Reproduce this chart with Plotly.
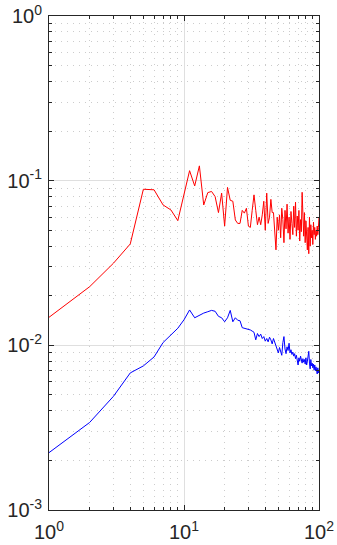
import plotly.graph_objects as go

# Frequency bins (1..100) and the two spectra
freq = list(range(1, 101))

red_psd = [
    0.0148, 0.0227, 0.0315, 0.0413, 0.0887, 0.0880, 0.0712, 0.0664, 0.0572, 0.0838,
    0.1150, 0.0929, 0.1230, 0.0712, 0.0846, 0.0860, 0.0800, 0.0640, 0.0840, 0.0530,
    0.0910, 0.0760, 0.0750, 0.0577, 0.0550, 0.0550, 0.0660, 0.0635, 0.0680, 0.0530,
    0.0520, 0.0660, 0.0820, 0.0660, 0.0540, 0.0600, 0.0540, 0.0620, 0.0750, 0.0500,
    0.0840, 0.0550, 0.0600, 0.0770, 0.0640, 0.0640, 0.0470, 0.0380, 0.0600, 0.0500,
    0.0620, 0.0450, 0.0680, 0.0580, 0.0420, 0.0660, 0.0510, 0.0720, 0.0480, 0.0600,
    0.0440, 0.0650, 0.0550, 0.0470, 0.0700, 0.0520, 0.0740, 0.0460, 0.0610, 0.0500,
    0.0660, 0.0430, 0.0580, 0.0490, 0.0850, 0.0550, 0.0460, 0.0640, 0.0420, 0.0570,
    0.0480, 0.0380, 0.0520, 0.0360, 0.0600, 0.0400, 0.0540, 0.0450, 0.0500, 0.0410,
    0.0560, 0.0470, 0.0520, 0.0440, 0.0500, 0.0460, 0.0530, 0.0470, 0.0520, 0.0600,
]

blue_psd = [
    0.00223, 0.0034, 0.0049, 0.0068, 0.0075, 0.0085, 0.0104, 0.0116, 0.0127, 0.0143,
    0.0164, 0.0147, 0.0153, 0.0157, 0.0160, 0.0163, 0.0161, 0.0150, 0.0147, 0.0139,
    0.0147, 0.0163, 0.0139, 0.0147, 0.0142, 0.0141, 0.0128, 0.0127, 0.0126, 0.0125,
    0.0124, 0.0122, 0.0120, 0.0108, 0.0118, 0.0113, 0.0117, 0.0110, 0.0113, 0.0106,
    0.0110, 0.0105, 0.0112, 0.0108, 0.0102, 0.0110, 0.0104, 0.0100, 0.0094, 0.0090,
    0.0097, 0.0092, 0.0087, 0.0104, 0.0113, 0.0095, 0.0089, 0.0098, 0.0093, 0.0103,
    0.0090, 0.0094, 0.0088, 0.0091, 0.0086, 0.0089, 0.0083, 0.0087, 0.0081, 0.0076,
    0.0084, 0.0080, 0.0086, 0.0081, 0.0078, 0.0083, 0.0079, 0.0082, 0.0077, 0.0084,
    0.0076, 0.0080, 0.0087, 0.0092, 0.0078, 0.0072, 0.0082, 0.0075, 0.0078, 0.0073,
    0.0077, 0.0071, 0.0076, 0.0070, 0.0074, 0.0069, 0.0067, 0.0073, 0.0068, 0.0071,
]

# Decade ticks
x_exponents = [0, 1, 2]
y_exponents = [-3, -2, -1, 0]

x_major = [10 ** e for e in x_exponents]
y_major = [10.0 ** e for e in y_exponents]
x_labels = [f"10<sup>{e}</sup>" for e in x_exponents]
y_labels = [f"10<sup>{e}</sup>" for e in y_exponents]

x_minor = [m * 10 ** e for e in x_exponents[:-1] for m in range(2, 10)]
y_minor = [m * 10.0 ** e for e in y_exponents[:-1] for m in range(2, 10)]

fig = go.Figure()
fig.add_trace(go.Scatter(x=freq, y=red_psd, mode="lines",
                         line=dict(color="#ff0000", width=1)))
fig.add_trace(go.Scatter(x=freq, y=blue_psd, mode="lines",
                         line=dict(color="#0000ff", width=1)))

minor_style = dict(tickmode="array", ticks="inside", ticklen=3,
                   tickcolor="#262626", showgrid=True, gridcolor="#cccccc",
                   griddash="1px,5px", gridwidth=1)

axis_common = dict(
    type="log", automargin=False,
    showline=True, linecolor="#262626", linewidth=1, mirror="ticks",
    ticks="inside", ticklen=5, tickcolor="#262626", tickwidth=1,
    showgrid=True, gridcolor="#dfdfdf", gridwidth=1,
    zeroline=False,
    tickfont=dict(family="Arial", size=20, color="#262626"),
)

fig.update_xaxes(
    **axis_common,
    range=[0, 2],
    tickmode="array", tickvals=x_major, ticktext=x_labels,
    ticklabelstandoff=4,
    minor=dict(tickvals=x_minor, **minor_style),
)
fig.update_yaxes(
    **axis_common,
    range=[-3, 0],
    tickmode="array", tickvals=y_major, ticktext=y_labels,
    ticklabelstandoff=2,
    minor=dict(tickvals=y_minor, **minor_style),
)

fig.update_layout(
    width=337, height=545,
    margin=dict(l=49, r=18, t=16, b=35),
    paper_bgcolor="white", plot_bgcolor="white",
    showlegend=False,
)

fig.write_html("out.html")
